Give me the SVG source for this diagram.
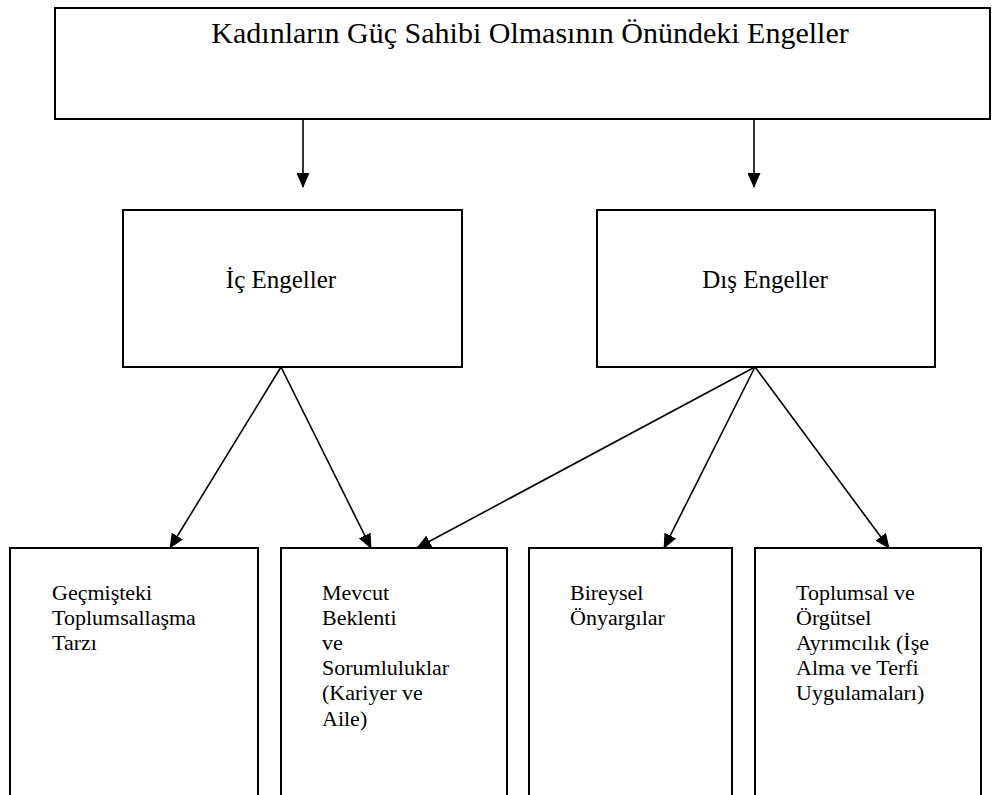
<svg xmlns="http://www.w3.org/2000/svg" width="992" height="795" viewBox="0 0 992 795">
<style>
.box{fill:#fff;stroke:#000;stroke-width:2}
.t{font-family:"Liberation Serif","Times New Roman",serif;fill:#000}
.title{font-size:30px;text-anchor:middle}
.mid{font-size:25px;text-anchor:middle}
.low{font-size:22px}
.c{stroke:#000;stroke-width:1.6;fill:none;marker-end:url(#ah)}
</style>
<defs>
<marker id="ah" markerUnits="userSpaceOnUse" markerWidth="15" markerHeight="13" viewBox="0 0 15 13" refX="14" refY="6.5" orient="auto">
<path d="M0,0 L15,6.5 L0,13 Z" fill="#000"/>
</marker>
</defs>
<rect width="992" height="795" fill="#fff"/>
<g id="root">
<rect class="box" x="55" y="8" width="935" height="111"/>
<text class="t title" x="530" y="43">Kadınların Güç Sahibi Olmasının Önündeki Engeller</text>
</g>
<g id="ic">
<rect class="box" x="123" y="210" width="339" height="157"/>
<text class="t mid" x="281" y="288">İç Engeller</text>
</g>
<g id="dis">
<rect class="box" x="597" y="210" width="338" height="157"/>
<text class="t mid" x="765" y="288">Dış Engeller</text>
</g>
<g id="gecmis">
<rect class="box" x="10" y="548" width="248" height="260"/>
<text class="t low" x="52" y="600">Geçmişteki</text>
<text class="t low" x="52" y="625">Toplumsallaşma</text>
<text class="t low" x="52" y="650">Tarzı</text>
</g>
<g id="mevcut">
<rect class="box" x="281" y="548" width="226" height="260"/>
<text class="t low" x="322" y="600">Mevcut</text>
<text class="t low" x="322" y="625">Beklenti</text>
<text class="t low" x="322" y="650">ve</text>
<text class="t low" x="322" y="675">Sorumluluklar</text>
<text class="t low" x="322" y="700">(Kariyer ve</text>
<text class="t low" x="322" y="726">Aile)</text>
</g>
<g id="bireysel">
<rect class="box" x="529" y="548" width="203" height="260"/>
<text class="t low" x="570" y="600">Bireysel</text>
<text class="t low" x="570" y="625">Önyargılar</text>
</g>
<g id="toplumsal">
<rect class="box" x="755" y="548" width="226" height="260"/>
<text class="t low" x="796" y="600">Toplumsal ve</text>
<text class="t low" x="796" y="625">Örgütsel</text>
<text class="t low" x="796" y="650">Ayrımcılık (İşe</text>
<text class="t low" x="796" y="675">Alma ve Terfi</text>
<text class="t low" x="796" y="700">Uygulamaları)</text>
</g>
<g id="connectors">
<line class="c" x1="303" y1="119" x2="303" y2="187"/>
<line class="c" x1="754" y1="119" x2="754" y2="187"/>
<line class="c" x1="281" y1="367" x2="170" y2="548"/>
<line class="c" x1="281" y1="367" x2="371" y2="548"/>
<line class="c" x1="755" y1="367" x2="417" y2="548"/>
<line class="c" x1="755" y1="367" x2="664" y2="548"/>
<line class="c" x1="755" y1="367" x2="889" y2="548"/>
</g>
</svg>
